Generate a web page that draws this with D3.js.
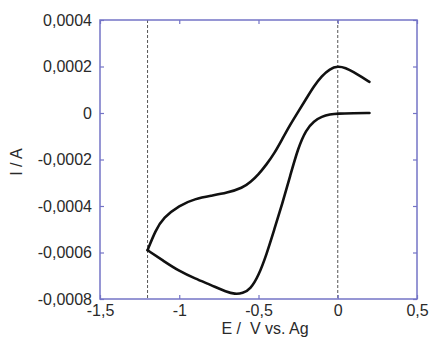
<!DOCTYPE html>
<html>
<head>
<meta charset="utf-8">
<script src="https://cdn.jsdelivr.net/npm/d3@7"></script>
<style>
  body { margin: 0; background: #fff; }
  svg text { font-family: "Liberation Sans", Arial, Helvetica, sans-serif; fill: #2a2a2a; }
</style>
</head>
<body>
<div id="chart"></div>
<script>
// cathodic sweep, 0.2 V -> -1.2 V
var eForward = [0.2, 0.1, 0, -0.05, -0.1, -0.15, -0.2, -0.25, -0.3, -0.35, -0.4, -0.45, -0.5, -0.55, -0.6, -0.65, -0.7, -0.8, -0.9, -1.0, -1.1, -1.2];
var iForward = [0.0, -0.000001, -0.000002, -0.000006, -0.000015, -0.000034, -0.000072, -0.00015, -0.00027, -0.00039, -0.0005, -0.00061, -0.0007, -0.000757, -0.000776, -0.000779, -0.00077, -0.00074, -0.000712, -0.00068, -0.000636, -0.00059];
// anodic sweep, -1.2 V -> 0.2 V
var eReverse = [-1.2, -1.15, -1.1, -1.0, -0.9, -0.8, -0.7, -0.6, -0.55, -0.5, -0.45, -0.4, -0.35, -0.3, -0.25, -0.2, -0.15, -0.1, -0.05, 0, 0.05, 0.1, 0.15, 0.2];
var iReverse = [-0.00059, -0.000505, -0.00045, -0.000397, -0.000369, -0.000356, -0.000344, -0.000322, -0.000297, -0.000264, -0.000222, -0.000174, -0.000112, -0.00005, 0.000005, 0.00006, 0.000116, 0.00016, 0.00019, 0.000202, 0.000194, 0.000176, 0.000155, 0.000134];

var xTicks = [-1.5, -1, -0.5, 0, 0.5];
var yTicks = [0.0004, 0.0002, 0, -0.0002, -0.0004, -0.0006, -0.0008];
var markers = [-1.2, 0];

var width = 430, height = 343;
var margin = {top: 20, right: 13, bottom: 44, left: 100};
var w = width - margin.left - margin.right,
    h = height - margin.top - margin.bottom;

var svg = d3.select("#chart").append("svg")
    .attr("width", width)
    .attr("height", height);

var g = svg.append("g")
    .attr("transform", "translate(" + margin.left + "," + margin.top + ")");

var x = d3.scaleLinear().domain([-1.5, 0.5]).range([0, w]);
var y = d3.scaleLinear().domain([-0.0008, 0.0004]).range([h, 0]);

function comma(d) { return String(d).replace(".", ","); }

var axisColor = "#7474c6";

// dashed markers
g.selectAll(".marker")
    .data(markers)
  .enter().append("line")
    .attr("class", "marker")
    .attr("x1", function(d) { return x(d); })
    .attr("x2", function(d) { return x(d); })
    .attr("y1", 0)
    .attr("y2", h)
    .attr("stroke", "#555")
    .attr("stroke-width", 1)
    .attr("stroke-dasharray", "3,2");

// axes
var styleAxis = function(sel) {
  sel.select(".domain").remove();
  sel.selectAll(".tick line").attr("stroke", axisColor).attr("stroke-width", 1.2);
  sel.selectAll(".tick text").style("font-size", "16px").attr("fill", "#2a2a2a");
};

g.append("g")
    .call(d3.axisLeft(y).tickValues(yTicks).tickFormat(comma).tickSizeInner(-4).tickSizeOuter(0).tickPadding(8))
    .call(styleAxis);

g.append("g")
    .attr("transform", "translate(" + w + ",0)")
    .call(d3.axisRight(y).tickValues(yTicks).tickFormat("").tickSizeInner(-4).tickSizeOuter(0))
    .call(styleAxis);

g.append("g")
    .attr("transform", "translate(0," + h + ")")
    .call(d3.axisBottom(x).tickValues(xTicks).tickFormat(comma).tickSizeInner(-4).tickSizeOuter(0).tickPadding(6))
    .call(styleAxis);

g.append("g")
    .call(d3.axisTop(x).tickValues(xTicks).tickFormat("").tickSizeInner(-4).tickSizeOuter(0))
    .call(styleAxis);

// frame
g.append("rect")
    .attr("width", w)
    .attr("height", h)
    .attr("fill", "none")
    .attr("stroke", axisColor)
    .attr("stroke-width", 1.5);

// curve
var line = d3.line()
    .x(function(d) { return x(d[0]); })
    .y(function(d) { return y(d[1]); })
    .curve(d3.curveBasis);

var branches = [d3.zip(eForward, iForward), d3.zip(eReverse, iReverse)];

g.selectAll(".cv")
    .data(branches)
  .enter().append("path")
    .attr("class", "cv")
    .attr("d", line)
    .attr("fill", "none")
    .attr("stroke", "#111")
    .attr("stroke-width", 2.6)
    .attr("stroke-linejoin", "round")
    .attr("stroke-linecap", "round");

// labels
svg.append("text")
    .attr("x", 265)
    .attr("y", 334)
    .attr("text-anchor", "middle")
    .style("font-size", "16px")
    .style("white-space", "pre")
    .text("E /  V vs. Ag");

svg.append("text")
    .attr("transform", "translate(22,162) rotate(-90)")
    .attr("text-anchor", "middle")
    .style("font-size", "16px")
    .text("I / A");
</script>
</body>
</html>
